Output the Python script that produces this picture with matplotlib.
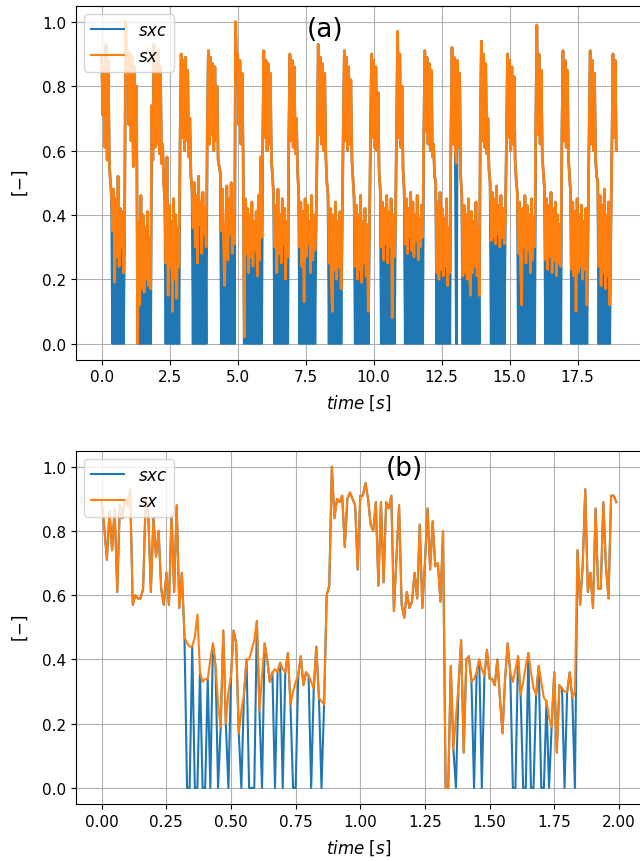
import numpy as np
import matplotlib
matplotlib.use('Agg')
import matplotlib.pyplot as plt

# (b): first 2 s, 100 Hz, values in hundredths
dt_b = 0.01
sx_b = [
    89, 81, 71, 86, 74, 87, 61, 88, 84, 90, 88, 93, 57, 60, 59, 59, 62, 90, 85, 61,
    84, 72, 80, 62, 57, 67, 57, 85, 61, 88, 56, 67, 47, 45, 44, 44, 47, 54, 36, 33,
    34, 34, 40, 45, 38, 26, 19, 49, 20, 30, 35, 49, 45, 17, 24, 29, 40, 40, 43, 46,
    52, 24, 35, 45, 40, 33, 36, 37, 36, 39, 37, 36, 42, 26, 30, 33, 35, 41, 32, 36,
    35, 33, 31, 44, 28, 27, 26, 60, 63, 100, 84, 90, 89, 91, 75, 90, 92, 90, 88, 68,
    91, 91, 95, 90, 82, 80, 89, 63, 89, 64, 89, 87, 91, 55, 72, 88, 57, 53, 61, 56,
    58, 67, 59, 82, 56, 70, 87, 68, 83, 69, 70, 58, 80, 0, 0, 38, 12, 22, 32, 46,
    11, 40, 41, 33, 34, 36, 40, 37, 35, 43, 34, 34, 32, 40, 28, 17, 34, 45, 36, 33,
    37, 41, 29, 33, 38, 42, 36, 31, 29, 38, 33, 28, 27, 22, 19, 36, 11, 32, 31, 30,
    30, 36, 28, 30, 74, 57, 69, 93, 61, 67, 56, 87, 62, 62, 89, 69, 59, 91, 91, 89,
]
# 1 = contact (sxc follows sx), 0 = no contact (sxc = 0)
contact_b = [
    "11111111111111111111",
    "11111111111110010010",
    "01011011101111011000",
    "11011110110111001111",
    "10111011111111111111",
    "11111111111111111111",
    "11111111111110011011",
    "11110110111111111110",
    "01100100110010111110",
    "11101111111111111111",
]

# (a): whole record read at 25 Hz, one row per cycle (high phase, then low phase)
dt_a = 0.04
sx_a_rows = [
    "89 71 86 61 93 57 88 56 50  46 35 48 19 45 27 52 24 42 30 41 22 35",
    "100 84 91 68 90 63 89 55 86 58 80  00 38 12 46 17 40 16 36 20 41 18 33 17",
    "74 57 93 61 87 62 91 59 86 56 62 50  44 25 58 15 43 24 38 10 45 20 40 14 36 24",
    "62 90 64 88 60 89 63 85 58 70 52  48 36 50 30 46 25 52 37 44 28 47 34 42 30",
    "66 91 62 89 65 87 60 86 63 80 57 55  53 35 48 30 18 35 49 26 45 34 50 28 41 31",
    "100 85 90 68 88 62 84 58 02  45 28 42 22 40 27 44 24 38 29 41 21 46 26 58 33",
    "62 91 64 88 60 87 62 84 57 52  46 30 43 22 48 28 40 25 45 31 42 20 38 27",
    "65 90 63 88 61 86 59 70 54  47 30 44 24 41 13 45 27 43 31 38 22 46 26 40 29 36",
    "60 93 65 89 62 87 60 84 58 50  46 25 42 19 10 40 23 44 20 38 24 41 17 35",
    "66 91 63 89 60 86 62 82 57 51  45 24 43 20 40 23 46 19 38 25 42 21 37 10 33",
    "63 90 64 88 61 86 60 78 53  48 30 44 26 42 31 46 25 41 30 45 08 40 27 36",
    "67 97 64 90 61 80 54  48 31 45 28 42 33 47 29 44 27 40 32 46 26 39 30 43 33",
    "63 91 66 89 62 87 60 85 58 62 52  50 22 44 20 47 23 42 21 39 24 45 18 36 22",
    "64 92 62 89 60 56 88 61 84 52  46 21 43 22 40 20 45 23 15 41 22 38 24 44 21 36 15",
    "66 94 63 90 61 87 59 70 54  50 32 47 33 45 31 49 34 43 30 46 33 42 31 38",
    "62 90 64 88 60 86 62 83 57 51  47 28 44 24 12 42 30 46 25 43 29 40 22 45 26 39 30",
    "68 99 65 90 62 85 58 53  48 26 45 23 43 27 47 22 42 26 44 21 40 25 37 24",
    "64 91 63 88 61 85 58 52  47 23 44 21 41 10 45 22 40 24 43 20 38 23 42 12 35",
    "65 91 62 88 60 84 57 52  50 24 46 18 43 22 48 17 40 21 44 12 35",
    "62 90 64 88 60",
]
contact_a_rows = [
    "111111111 1010101010101",
    "11111111111 0101010101010",
    "111111111111 10101010101010",
    "11111111111 10101010101010",
    "111111111111 10101010101010",
    "111111110 1010101010101010",
    "1111111111 10101010101010",
    "111111111 10101010101010101",
    "1111111111 10100101010101",
    "1111111111 101010101010101",
    "111111111 101010101010101",
    "1111111 101010101010101010",
    "11111111111 10101010101010",
    "1111101111 10101010010101010",
    "111111111 101010101010101",
    "1111111111 10100101010101010",
    "11111111 1010101010101010",
    "11111111 10101010101010101",
    "11111111 1010101010101",
    "11111",
]


def parse_values(rows):
    return np.array([int(v) for row in rows for v in row.split()]) / 100.0


def parse_flags(rows):
    return np.array([int(c) for row in rows for c in row.replace(' ', '')])


def draw_panel(ax, t, sx, flags, tag, tag_x, tag_y, lw):
    sxc = sx * flags
    ax.plot(t, sxc, label='$sxc$', lw=lw)
    ax.plot(t, sx, label='$sx$', lw=lw)
    ax.grid(True)
    ax.set_ylim(-0.05, 1.05)
    ax.set_xlabel('$time\\ [s]$', fontsize=12, labelpad=6)
    ax.set_ylabel('$[-]$', fontsize=12, labelpad=9)
    ax.tick_params(labelsize=11)
    leg = ax.legend(loc='upper left', fontsize=12)
    for h in leg.get_lines():
        h.set_linewidth(1.5)
    ax.text(tag_x, tag_y, tag, transform=ax.transAxes, ha='center', va='center', fontsize=19)


sx_a = parse_values(sx_a_rows)
flags_a = parse_flags(contact_a_rows)
assert len(sx_a) == len(flags_a)
t_a = np.arange(len(sx_a)) * dt_a

sx_b_arr = np.array(sx_b) / 100.0
flags_b = parse_flags(contact_b)
assert len(sx_b_arr) == len(flags_b)
t_b = np.arange(len(sx_b_arr)) * dt_b

fig = plt.figure(figsize=(6.4, 8.62), dpi=100)
ax1 = fig.add_axes([76 / 640, 1 - 360.7 / 862, 566 / 640, 354 / 862])
ax2 = fig.add_axes([76 / 640, 1 - 805 / 862, 566 / 640, 353.3 / 862])

draw_panel(ax1, t_a, sx_a, flags_a, '(a)', 0.44, 0.935, 1.9)
draw_panel(ax2, t_b, sx_b_arr, flags_b, '(b)', 0.581, 0.95, 1.5)

fig.savefig('out.png', dpi=100)
